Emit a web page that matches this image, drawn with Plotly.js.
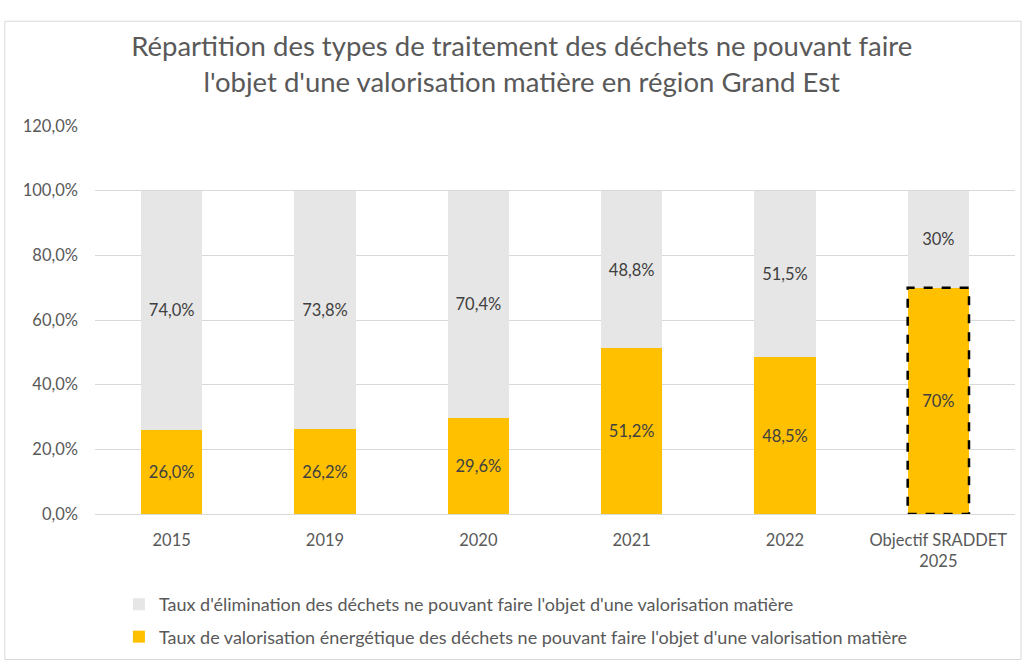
<!DOCTYPE html>
<html><head><meta charset="utf-8">
<script src="https://cdn.plot.ly/plotly-3.0.1.min.js"></script>
<style>body{margin:0;background:#fff}#c{width:1023px;height:662px}</style>
</head><body><div id="c"></div>
<script>
const categories = ["2015","2019","2020","2021","2022","Objectif SRADDET<br>2025"];
const valorisation = [26.0, 26.2, 29.6, 51.2, 48.5, 70];
const elimination = [74.0, 73.8, 70.4, 48.8, 51.5, 30];
const valorisationLabels = ["26,0%","26,2%","29,6%","51,2%","48,5%","70%"];
const eliminationLabels = ["74,0%","73,8%","70,4%","48,8%","51,5%","30%"];
const nameElim = "Taux d'élimination des déchets ne pouvant faire l'objet d'une valorisation matière";
const nameValo = "Taux de valorisation énergétique des déchets ne pouvant faire l'objet d'une valorisation matière";
const targetIndex = 5;

const FONT = "Lato, 'Open Sans', sans-serif";
const barWidth = 0.4;

const traces = [
  {type:'bar', x:categories, y:valorisation, name:nameValo, legendgroup:'v', legendrank:2,
   marker:{color:'#FFC000'}, width:barWidth,
   text:valorisationLabels, textposition:'inside', insidetextanchor:'middle',
   textfont:{color:'#404040', size:16.5, family:FONT}, hoverinfo:'skip'},
  {type:'bar', x:categories, y:elimination, name:nameElim, legendgroup:'e', legendrank:1,
   marker:{color:'#E7E6E6'}, width:barWidth,
   text:eliminationLabels, textposition:'inside', insidetextanchor:'middle',
   textfont:{color:'#404040', size:16.5, family:FONT}, hoverinfo:'skip'}
];

const shapes = [
  {type:'rect', xref:'paper', yref:'paper', x0:-0.098, x1:1.0065, y0:-0.375, y1:1.27,
   line:{color:'#D9D9D9', width:1}, fillcolor:'rgba(0,0,0,0)', layer:'below'},
  {type:'rect', xref:'x', yref:'y',
   x0:targetIndex - barWidth/2, x1:targetIndex + barWidth/2,
   y0:0, y1:valorisation[targetIndex],
   line:{color:'#000', width:2.5, dash:'dash'}, fillcolor:'rgba(0,0,0,0)'}
];

const layout = {
  width:1023, height:662,
  margin:{l:95, r:8, t:126, b:147},
  paper_bgcolor:'#fff', plot_bgcolor:'#fff',
  separators:', ',
  font:{family:FONT, color:'#595959'},
  title:{text:"Répartition des types de traitement des déchets ne pouvant faire<br>l'objet d'une valorisation matière en région Grand Est",
         font:{size:27.5, color:'#595959', family:FONT}, x:0.51, xanchor:'center', y:0.915, yanchor:'top'},
  barmode:'stack',
  showlegend:true,
  legend:{orientation:'v', x:0.026, xanchor:'left', y:-0.36, yanchor:'bottom',
          traceorder:'grouped', tracegroupgap:6,
          font:{size:18, color:'#595959', family:FONT}},
  xaxis:{type:'category', tickfont:{size:16.5, color:'#595959', family:FONT},
         showgrid:false, showline:false, ticks:'', zeroline:false, ticklabelstandoff:14},
  yaxis:{range:[0,120], dtick:20, tickformat:'.1f', ticksuffix:'%',
         tickfont:{size:16.5, color:'#595959', family:FONT},
         gridcolor:'#D9D9D9', gridwidth:1, zeroline:true, zerolinecolor:'#D9D9D9',
         showline:false, ticks:'', ticklabelstandoff:16},
  shapes:shapes
};
Plotly.newPlot('c', traces, layout, {staticPlot:true});
</script></body></html>
